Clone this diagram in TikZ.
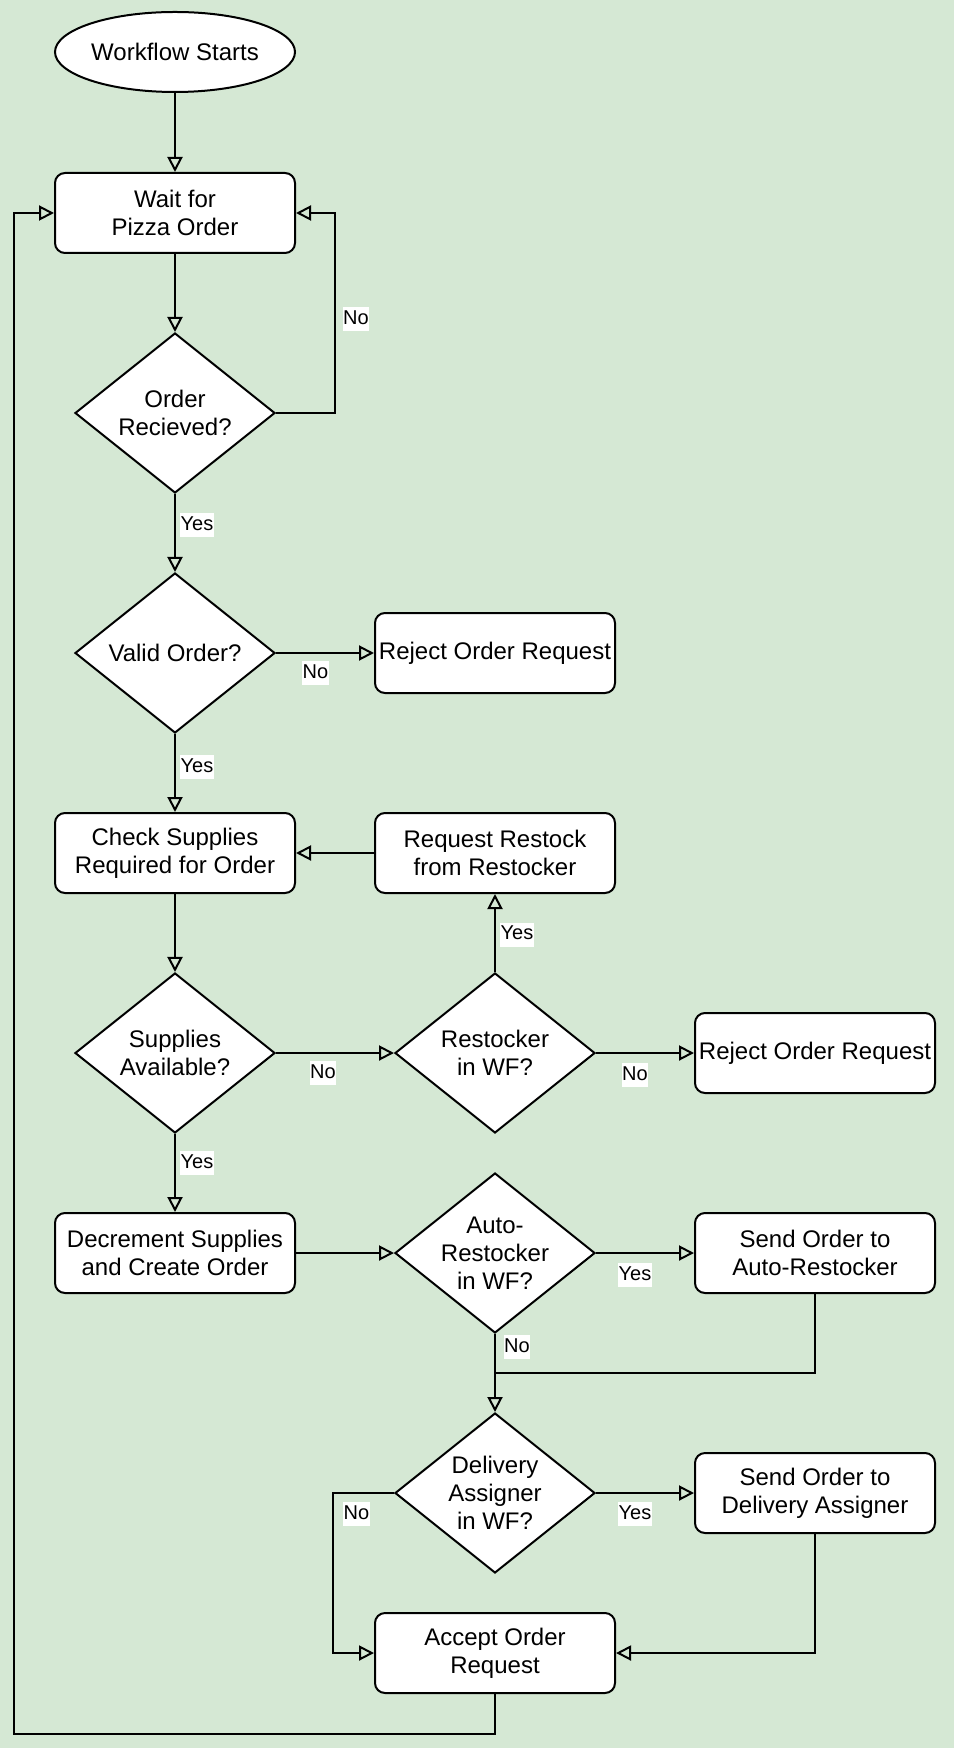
\documentclass[tikz,border=0pt]{standalone}
\usepackage{fontspec}
\setmainfont{Liberation Sans}
\usetikzlibrary{shapes.geometric,arrows.meta}
\definecolor{bggreen}{HTML}{D5E8D4}
\begin{document}
\begin{tikzpicture}[x=0.5pt,y=-0.5pt,
  every node/.style={font=\fontsize{12}{14}\selectfont},
  box/.style={draw, line width=1pt, fill=white, rounded corners=5pt, minimum width=120pt, minimum height=40pt, align=center, inner sep=1pt},
  dia/.style={draw, line width=1pt, fill=white, diamond, minimum width=100pt, minimum height=80pt, inner sep=0pt},
  dtext/.style={align=center, inner sep=0pt},
  term/.style={draw, line width=1pt, fill=white, ellipse, minimum width=120pt, minimum height=40pt, inner sep=0pt},
  conn/.style={line width=1pt, -{Triangle[open, length=7.5pt, width=7.5pt]}},
  plain/.style={line width=1pt},
  lbl/.style={fill=white, font=\fontsize{10}{12}\selectfont, inner xsep=0.3pt, inner ysep=1pt, text height=7.6pt, text depth=2.4pt}
]
\fill[bggreen] (0,0) rectangle (954,1748);
\useasboundingbox (0,0) rectangle (954,1748);

% nodes
\node[term] (start) at (175,52) {Workflow Starts};
\node[box] (wait) at (175,213) {Wait for\\Pizza Order};
\node[dia, label={[dtext]center:{Order\\Recieved?}}] (recv) at (175,413) {};
\node[dia, label={[dtext]center:{Valid Order?}}] (valid) at (175,653) {};
\node[box] (rej1) at (495,653) {Reject Order Request};
\node[box] (check) at (175,853) {Check Supplies\\Required for Order};
\node[box] (reqr) at (495,853) {Request Restock\\from Restocker};
\node[dia, label={[dtext]center:{Supplies\\Available?}}] (supp) at (175,1053) {};
\node[dia, label={[dtext]center:{Restocker\\in WF?}}] (rstk) at (495,1053) {};
\node[box] (rej2) at (815,1053) {Reject Order Request};
\node[box] (decr) at (175,1253) {Decrement Supplies\\and Create Order};
\node[dia, label={[dtext]center:{Auto-\\Restocker\\in WF?}}] (auto) at (495,1253) {};
\node[box] (sendar) at (815,1253) {Send Order to\\Auto-Restocker};
\node[dia, label={[dtext]center:{Delivery\\Assigner\\in WF?}}] (deliv) at (495,1493) {};
\node[box] (sendda) at (815,1493) {Send Order to\\Delivery Assigner};
\node[box] (accept) at (495,1653) {Accept Order\\Request};
\coordinate (merge) at (495,1373);

% connectors
\draw[conn] (start) -- (wait);
\draw[conn] (wait) -- (recv);
\draw[conn] (recv.east) -- ++(59,0) |- (wait.east) node[lbl] at (356,319) {No};
\draw[conn] (recv) -- (valid) node[lbl] at (197,525) {Yes};
\draw[conn] (valid) -- (rej1) node[lbl] at (315.5,673) {No};
\draw[conn] (valid) -- (check) node[lbl] at (197,767) {Yes};
\draw[conn] (reqr) -- (check);
\draw[conn] (check) -- (supp);
\draw[conn] (supp) -- (rstk) node[lbl] at (323,1073) {No};
\draw[conn] (rstk) -- (reqr) node[lbl] at (517,934.5) {Yes};
\draw[conn] (rstk) -- (rej2) node[lbl] at (635,1075) {No};
\draw[conn] (supp) -- (decr) node[lbl] at (197,1163) {Yes};
\draw[conn] (decr) -- (auto);
\draw[conn] (auto) -- (sendar) node[lbl] at (635,1275) {Yes};
\draw[conn] (auto) -- (merge) -- (deliv) node[lbl] at (517,1347) {No};
\draw[plain] (sendar) |- (merge);
\draw[conn] (deliv) -- (sendda) node[lbl] at (635,1514) {Yes};
\draw[conn] (deliv.west) -- ++(-61,0) |- (accept.west) node[lbl] at (356.5,1514) {No};
\draw[conn] (sendda) |- (accept);
\draw[conn] (accept.south) -- ++(0,40) -| ([xshift=-20.2pt]wait.west) -- (wait.west);
\end{tikzpicture}
\end{document}
